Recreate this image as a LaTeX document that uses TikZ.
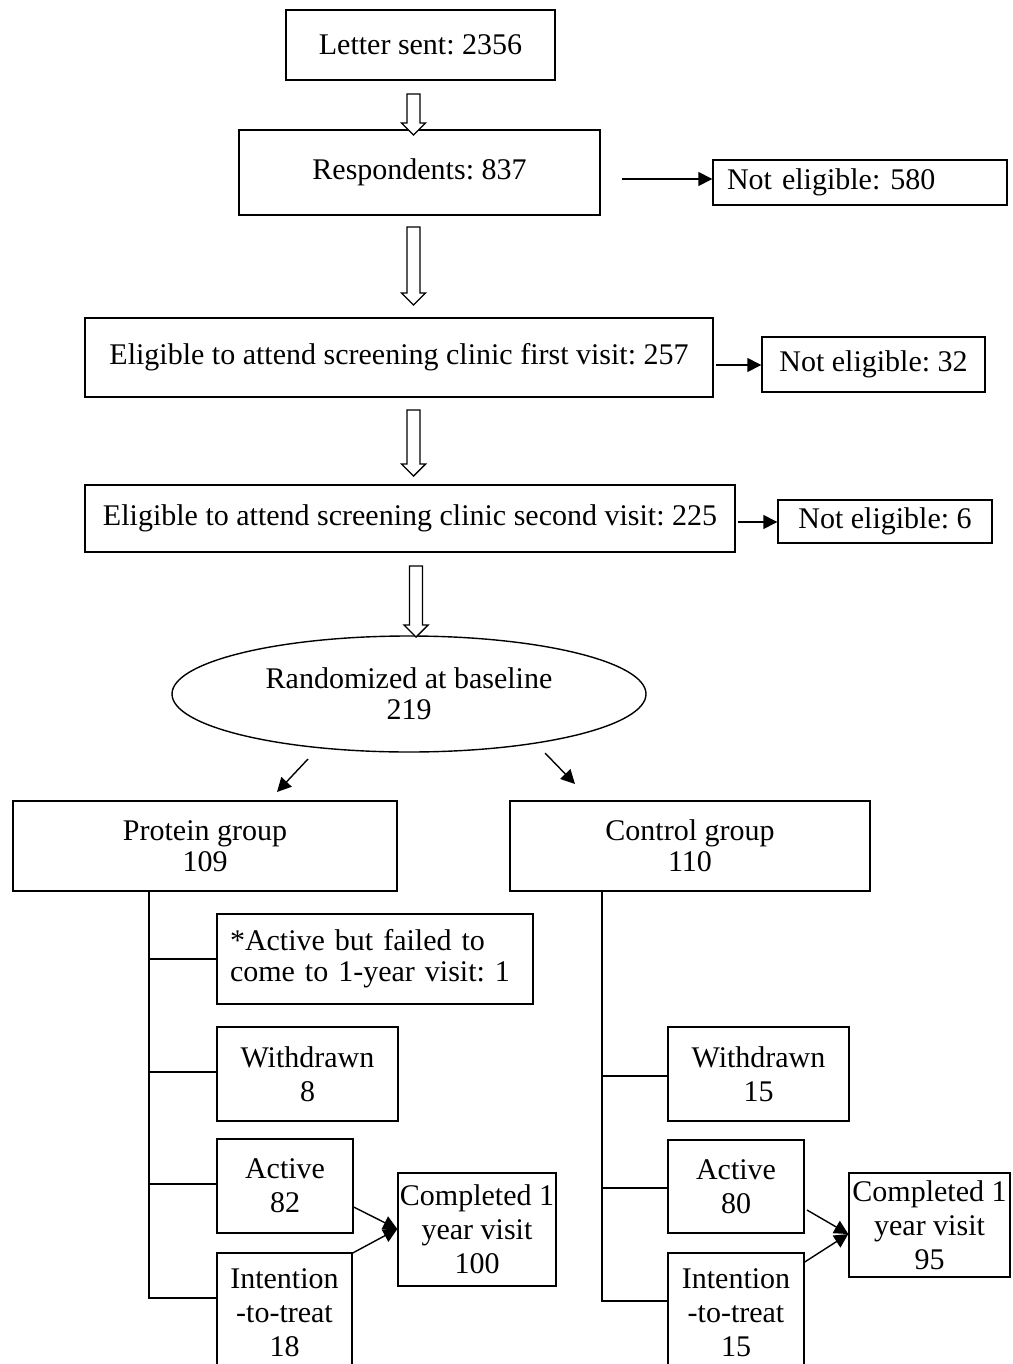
\documentclass[tikz,border=0pt]{standalone}
\usepackage{fontspec}
\setmainfont{Liberation Serif}
\usetikzlibrary{arrows.meta,shapes.geometric,calc}
\frenchspacing
\newcommand\hollowdown[3]{%
  \draw[hollow] (#1-6.5,#2) -- (#1+6.5,#2) -- (#1+6.5,#3-12) -- (#1+12,#3-12)
    -- (#1,#3) -- (#1-12,#3-12) -- (#1-6.5,#3-12) -- cycle;}
\begin{document}
\begin{tikzpicture}[x=1pt,y=-1pt,
  every node/.style={font=\frenchspacing\fontsize{30}{34}\selectfont},
  box/.style={draw, line width=1.4pt, inner sep=0pt, align=center},
  lbox/.style={draw, line width=1.4pt, inner ysep=0pt, align=left},
  link/.style={line width=1.4pt},
  arr/.style={line width=1.4pt, -{Triangle[length=14pt,width=14pt]}},
  hollow/.style={draw, line width=1.4pt, fill=white}]
\clip (0,0) rectangle (1012,1364);
\fill[white] (0,0) rectangle (1012,1364);

% top chain
\node[box, minimum width=269pt, minimum height=70pt] (letter) at (420.5,45) {Letter sent: 2356};
\node[box, minimum width=361pt, minimum height=85pt] (resp) at (419.5,172.5) {Respondents: 837};
\node[lbox, inner xsep=14pt, text width=266pt, minimum height=45pt] (ne580) at (860,182.5) {Not eligible: 580};
\node[box, minimum width=628pt, minimum height=79pt] (elig1) at (399,357.5) {Eligible to attend screening clinic first visit: 257};
\node[box, minimum width=223pt, minimum height=55pt] (ne32) at (873.5,364.5) {Not eligible: 32};
\node[box, minimum width=650pt, minimum height=67pt] (elig2) at (410,518.5) {Eligible to attend screening clinic second visit: 225};
\node[box, minimum width=214pt, minimum height=43pt] (ne6) at (885,521.5) {Not eligible: 6};
\node[box, ellipse, minimum width=474pt, minimum height=116pt,
      font=\frenchspacing\fontsize{30}{31}\selectfont] (rand) at (409,694) {Randomized at baseline\\219};

% groups
\node[box, minimum width=384pt, minimum height=90pt, font=\frenchspacing\fontsize{30}{31}\selectfont] (prot) at (205,846) {Protein group\\109};
\node[box, minimum width=360pt, minimum height=90pt, font=\frenchspacing\fontsize{30}{31}\selectfont] (ctrl) at (690,846) {Control group\\110};

% protein branch
\node[lbox, inner xsep=13pt, text width=290pt, minimum height=90pt,
      font=\frenchspacing\fontsize{30}{31}\selectfont] (fail) at (375,959) {*Active but failed to\\come to 1-year visit: 1};
\node[box, minimum width=181pt, minimum height=94pt] (wd8) at (307.5,1074) {Withdrawn\\8};
\node[box, minimum width=136pt, minimum height=94pt] (act82) at (285,1186) {Active\\82};
\node[box, minimum width=135pt, minimum height=119pt] (itt18) at (284.5,1312.5) {Intention\\-to-treat\\18};
\node[box, minimum width=158pt, minimum height=113pt] (comp100) at (477,1229.5) {Completed 1\\year visit\\100};

% control branch
\node[box, minimum width=181pt, minimum height=94pt] (wd15) at (758.5,1074) {Withdrawn\\15};
\node[box, minimum width=136pt, minimum height=93pt] (act80) at (736,1186.5) {Active\\80};
\node[box, minimum width=136pt, minimum height=119pt] (itt15) at (736,1312.5) {Intention\\-to-treat\\15};
\node[box, minimum width=161pt, minimum height=104pt] (comp95) at (929.5,1225) {Completed 1\\year visit\\95};

% hollow down arrows
\hollowdown{413.5}{94}{135}
\hollowdown{413.5}{227}{305}
\hollowdown{413.5}{410}{476}
\hollowdown{416}{566}{637}

% side arrows
\draw[arr] ($(ne580.west)+(-90,-3.5)$) -- ($(ne580.west)+(0,-3.5)$);
\draw[arr] ($(elig1.east)+(2,7.5)$) -- ($(ne32.west)+(0,0.5)$);
\draw[arr] ($(elig2.east)+(2,3.5)$) -- ($(ne6.west)+(0,0.5)$);

% ellipse to groups
\coordinate (rl0) at (308,759);
\coordinate (rl1) at (277,792);
\coordinate (rr0) at (545,753);
\coordinate (rr1) at (575,784);
\draw[arr] (rl0) -- (rl1);
\draw[arr] (rr0) -- (rr1);

% protein tree
\coordinate (pt) at (149,891);
\coordinate (pb) at (149,1298);
\draw[link] (pt) -- (pb) -- (pb -| itt18.west);
\draw[link] (pt |- fail.west) -- (fail.west);
\draw[link] (149,1072) -- (wd8.west |- 0,1072);
\draw[link] (149,1184) -- (act82.west |- 0,1184);

% control tree
\coordinate (ct) at (602,891);
\coordinate (cb) at (602,1301);
\draw[link] (ct) -- (cb) -- (cb -| itt15.west);
\draw[link] (602,1076) -- (wd15.west |- 0,1076);
\draw[link] (602,1188) -- (act80.west |- 0,1188);

% to completed
\draw[arr] (act82.east |- 0,1207) -- (comp100.west |- 0,1229);
\draw[arr] (itt18.east |- 0,1253) -- (comp100.west |- 0,1229);
\draw[arr] (807,1210) -- (comp95.west |- 0,1234);
\draw[arr] (itt15.east |- 0,1262) -- (comp95.west |- 0,1234);
\end{tikzpicture}
\end{document}
